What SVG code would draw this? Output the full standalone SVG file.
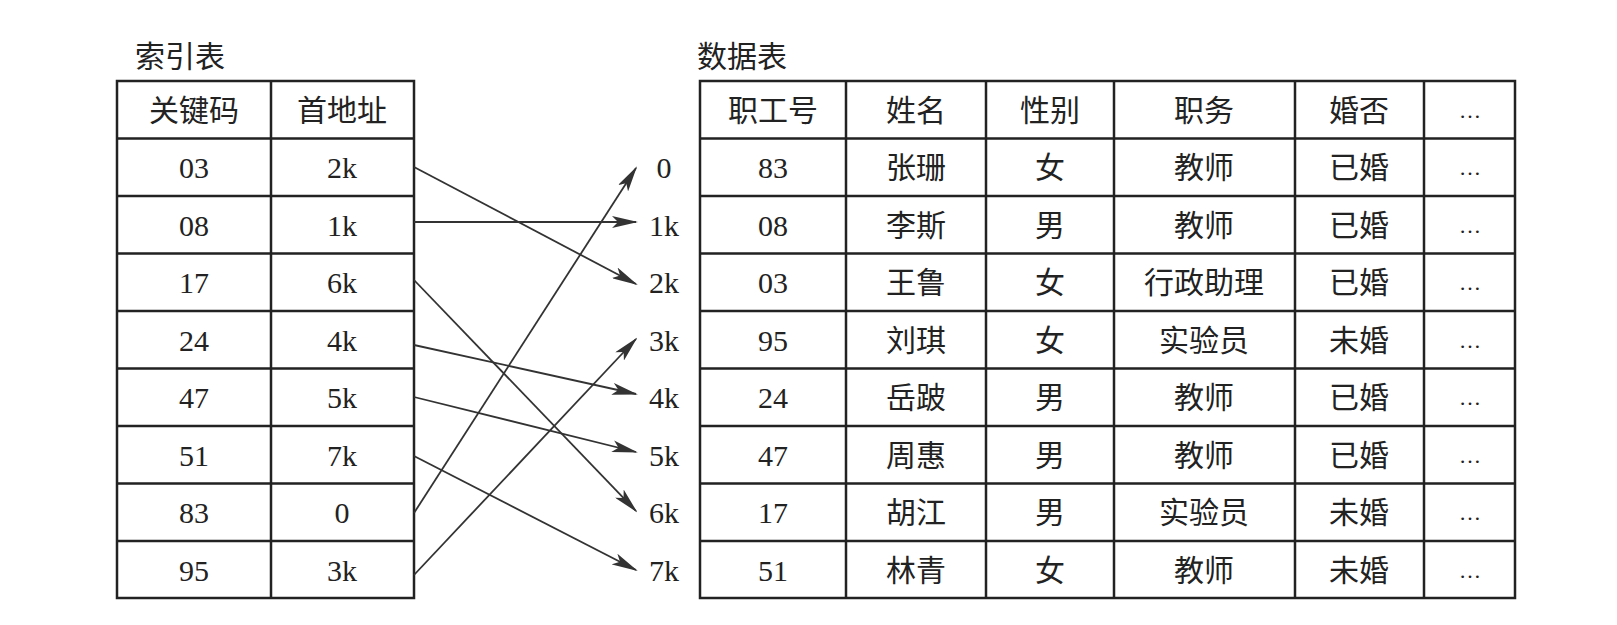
<svg xmlns="http://www.w3.org/2000/svg" width="1617" height="625" viewBox="0 0 1617 625">
<style>
.g{fill:none;stroke:#222;stroke-width:2.5}
.t{font-family:"Liberation Serif","Noto Sans CJK SC",serif;font-size:30px;fill:#222;text-anchor:middle;dominant-baseline:central}
.d{font-size:22px}
.c{stroke:#333;stroke-width:1.8;fill:none;marker-end:url(#a)}
</style>
<defs><marker id="a" markerWidth="26" markerHeight="12" refX="24" refY="6" orient="auto" markerUnits="userSpaceOnUse"><path d="M0,0 L26,6 L0,12 L6,6 Z" fill="#333"/></marker></defs>
<rect width="1617" height="625" fill="#fff"/>
<g id="index">
<text class="t" x="180" y="56">索引表</text>
<rect class="g" x="117" y="81" width="297" height="517"/>
<line class="g" x1="271" y1="81" x2="271" y2="598"/>
<path class="g" d="M117 138.5H414M117 196H414M117 253.5H414M117 311H414M117 368.5H414M117 426H414M117 483.5H414M117 541H414"/>
<text class="t" x="194" y="110">关键码</text><text class="t" x="342" y="110">首地址</text>
<text class="t" x="194" y="167">03</text><text class="t" x="342" y="167">2k</text>
<text class="t" x="194" y="225">08</text><text class="t" x="342" y="225">1k</text>
<text class="t" x="194" y="282">17</text><text class="t" x="342" y="282">6k</text>
<text class="t" x="194" y="340">24</text><text class="t" x="342" y="340">4k</text>
<text class="t" x="194" y="397">47</text><text class="t" x="342" y="397">5k</text>
<text class="t" x="194" y="455">51</text><text class="t" x="342" y="455">7k</text>
<text class="t" x="194" y="512">83</text><text class="t" x="342" y="512">0</text>
<text class="t" x="194" y="570">95</text><text class="t" x="342" y="570">3k</text>
</g>
<g id="addresses">
<text class="t" x="664" y="167">0</text><text class="t" x="664" y="225">1k</text>
<text class="t" x="664" y="282">2k</text><text class="t" x="664" y="340">3k</text>
<text class="t" x="664" y="397">4k</text><text class="t" x="664" y="455">5k</text>
<text class="t" x="664" y="512">6k</text><text class="t" x="664" y="570">7k</text>
</g>
<g id="connectors">
<line class="c" x1="414" y1="167" x2="636" y2="284"/>
<line class="c" x1="414" y1="222" x2="636" y2="222"/>
<line class="c" x1="414" y1="280" x2="636" y2="511"/>
<line class="c" x1="414" y1="345" x2="636" y2="394"/>
<line class="c" x1="414" y1="397" x2="636" y2="452"/>
<line class="c" x1="414" y1="456" x2="636" y2="570"/>
<line class="c" x1="414" y1="513" x2="636" y2="168"/>
<line class="c" x1="414" y1="575" x2="636" y2="339"/>
</g>
<g id="data">
<text class="t" x="742" y="56">数据表</text>
<rect class="g" x="700" y="81" width="815" height="517"/>
<path class="g" d="M846 81V598M986 81V598M1114 81V598M1295 81V598M1424 81V598"/>
<path class="g" d="M700 138.5H1515M700 196H1515M700 253.5H1515M700 311H1515M700 368.5H1515M700 426H1515M700 483.5H1515M700 541H1515"/>
<g class="t">
<text x="773" y="110">职工号</text><text x="916" y="110">姓名</text><text x="1050" y="110">性别</text><text x="1204" y="110">职务</text><text x="1359" y="110">婚否</text><text class="d" x="1470" y="110">…</text>
<text x="773" y="167">83</text><text x="916" y="167">张珊</text><text x="1050" y="167">女</text><text x="1204" y="167">教师</text><text x="1359" y="167">已婚</text><text class="d" x="1470" y="167">…</text>
<text x="773" y="225">08</text><text x="916" y="225">李斯</text><text x="1050" y="225">男</text><text x="1204" y="225">教师</text><text x="1359" y="225">已婚</text><text class="d" x="1470" y="225">…</text>
<text x="773" y="282">03</text><text x="916" y="282">王鲁</text><text x="1050" y="282">女</text><text x="1204" y="282">行政助理</text><text x="1359" y="282">已婚</text><text class="d" x="1470" y="282">…</text>
<text x="773" y="340">95</text><text x="916" y="340">刘琪</text><text x="1050" y="340">女</text><text x="1204" y="340">实验员</text><text x="1359" y="340">未婚</text><text class="d" x="1470" y="340">…</text>
<text x="773" y="397">24</text><text x="916" y="397">岳跛</text><text x="1050" y="397">男</text><text x="1204" y="397">教师</text><text x="1359" y="397">已婚</text><text class="d" x="1470" y="397">…</text>
<text x="773" y="455">47</text><text x="916" y="455">周惠</text><text x="1050" y="455">男</text><text x="1204" y="455">教师</text><text x="1359" y="455">已婚</text><text class="d" x="1470" y="455">…</text>
<text x="773" y="512">17</text><text x="916" y="512">胡江</text><text x="1050" y="512">男</text><text x="1204" y="512">实验员</text><text x="1359" y="512">未婚</text><text class="d" x="1470" y="512">…</text>
<text x="773" y="570">51</text><text x="916" y="570">林青</text><text x="1050" y="570">女</text><text x="1204" y="570">教师</text><text x="1359" y="570">未婚</text><text class="d" x="1470" y="570">…</text>
</g>
</g>
</svg>
